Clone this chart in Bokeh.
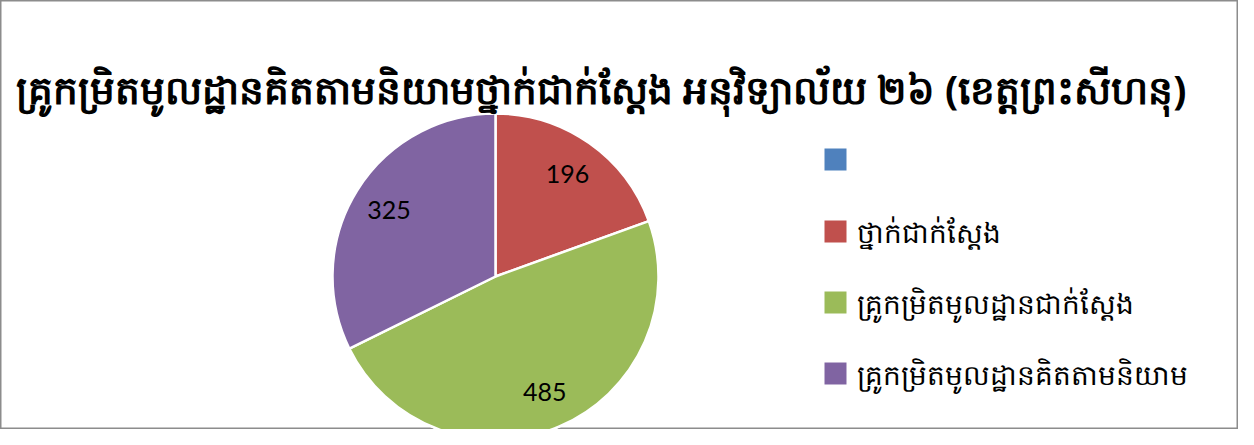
import math
from bokeh.plotting import figure
from bokeh.models import ColumnDataSource, Range1d
from bokeh.core.properties import value
from bokeh.embed import file_html
from bokeh.resources import INLINE

title_text = "គ្រូកម្រិតមូលដ្ឋានគិតតាមនិយាមថ្នាក់ជាក់ស្តែង អនុវិទ្យាល័យ ២៦ (ខេត្តព្រះសីហនុ)"
categories = ["", "ថ្នាក់ជាក់ស្តែង", "គ្រូកម្រិតមូលដ្ឋានជាក់ស្តែង", "គ្រូកម្រិតមូលដ្ឋានគិតតាមនិយាម"]
values = [0, 196, 485, 325]
colors = ["#4F81BD", "#C0504D", "#9BBB59", "#8064A2"]

W, H = 1238, 429
p = figure(width=W, height=H, output_backend="svg", toolbar_location=None,
           x_range=Range1d(0, W), y_range=Range1d(0, H), min_border=0)
p.axis.visible = False
p.grid.visible = False
p.outline_line_color = "#8c8c8c"
p.outline_line_width = 2
p.background_fill_color = "white"
p.border_fill_color = "white"

cx, cy, r = 495, 153, 163
total = sum(values)
starts, ends, lx, ly, labels = [], [], [], [], []
acc = 0.0
for v in values:
    a0 = math.pi / 2 - 2 * math.pi * acc / total
    acc += v
    a1 = math.pi / 2 - 2 * math.pi * acc / total
    starts.append(a0)
    ends.append(a1)
    mid = (a0 + a1) / 2
    lx.append(cx + 0.77 * r * math.cos(mid))
    ly.append(cy + 0.77 * r * math.sin(mid))
    labels.append(str(v) if v else "")

src = ColumnDataSource(dict(start=starts, end=ends, color=colors, lx=lx, ly=ly, label=labels))
p.wedge(x=cx, y=cy, radius=r, radius_units="screen", start_angle="start", end_angle="end",
        direction="clock", fill_color="color", line_color="white", line_width=2.5, source=src)
p.text(x="lx", y="ly", text="label", source=src, text_align="center", text_baseline="middle",
       text_font=value("Lato"), text_font_size="25px", text_color="black")

# title
p.text(x=[15], y=[341], text=[title_text], text_align="left", text_baseline="middle",
       text_font=value("Noto Sans"), text_font_style="bold", text_font_size="39px", text_color="black")

# legend
leg_y = [270, 198, 127, 56]
leg = ColumnDataSource(dict(x=[835] * 4, y=leg_y, tx=[856] * 4, name=categories, color=colors))
p.rect(x="x", y="y", width=22, height=22, width_units="screen", height_units="screen",
       fill_color="color", line_color=None, source=leg)
p.text(x="tx", y="y", text="name", source=leg, text_align="left", text_baseline="middle",
       text_font=value("Noto Sans"), text_font_size="28px", text_color="black")

open("out.html", "w").write(file_html(p, INLINE))
